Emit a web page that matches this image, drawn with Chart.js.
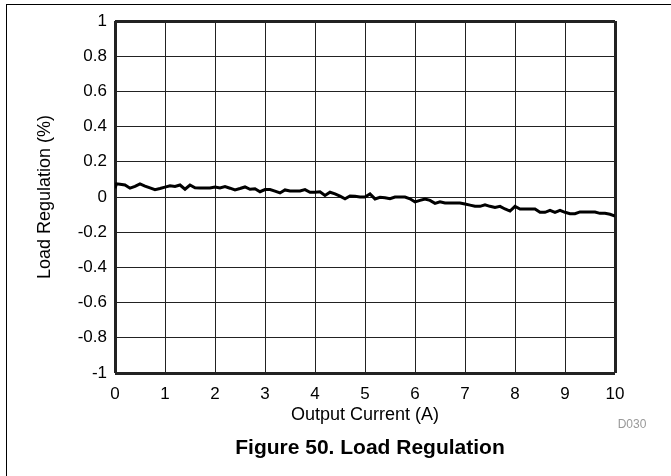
<!DOCTYPE html>
<html>
<head>
<meta charset="utf-8">
<script src="https://cdn.jsdelivr.net/npm/chart.js@4"></script>
<style>
  body { margin: 0; background: #fff; }
  #wrap { position: relative; width: 671px; height: 476px; overflow: hidden; }
  #frame { position: absolute; left: 6px; top: 4px; right: 0; bottom: 0; border-top: 1px solid #000; border-left: 1px solid #000; }
  #chart { position: absolute; left: 0; top: 0; }
</style>
</head>
<body>
<div id="wrap">
  <div id="frame"></div>
  <canvas id="chart" width="671" height="476"></canvas>
</div>
<script>
// Output current (A)
const currentA = [
    0.0, 0.03, 0.1, 0.2, 0.3, 0.4, 0.5, 0.6, 0.7, 0.8, 0.9,
    1.0, 1.1, 1.2, 1.3, 1.4, 1.5, 1.6, 1.7, 1.8, 1.9,
    2.0, 2.1, 2.2, 2.3, 2.4, 2.5, 2.6, 2.7, 2.8, 2.9,
    3.0, 3.1, 3.2, 3.3, 3.4, 3.5, 3.6, 3.7, 3.8, 3.9,
    4.0, 4.1, 4.2, 4.3, 4.4, 4.5, 4.6, 4.7, 4.8, 4.9,
    5.0, 5.1, 5.2, 5.3, 5.4, 5.5, 5.6, 5.7, 5.8, 5.9,
    6.0, 6.1, 6.2, 6.3, 6.4, 6.5, 6.6, 6.7, 6.8, 6.9,
    7.0, 7.1, 7.2, 7.3, 7.4, 7.5, 7.6, 7.7, 7.8, 7.9,
    8.0, 8.1, 8.2, 8.3, 8.4, 8.5, 8.6, 8.7, 8.8, 8.9,
    9.0, 9.1, 9.2, 9.3, 9.4, 9.5, 9.6, 9.7, 9.8, 9.9, 10.0
];

// Load regulation (%)
const regulationPct = [
    0.050, 0.075, 0.072, 0.068, 0.050, 0.060, 0.074, 0.062, 0.052, 0.042, 0.048,
    0.056, 0.064, 0.060, 0.068, 0.044, 0.068, 0.052, 0.051, 0.051, 0.051,
    0.057, 0.051, 0.059, 0.050, 0.040, 0.048, 0.057, 0.044, 0.047, 0.030,
    0.042, 0.042, 0.033, 0.023, 0.040, 0.034, 0.034, 0.034, 0.042, 0.027,
    0.027, 0.030, 0.009, 0.027, 0.018, 0.005, -0.010, 0.006, 0.004, 0.000,
    0.000, 0.017, -0.011, -0.002, -0.004, -0.010, 0.000, 0.000, 0.000, -0.010,
    -0.028, -0.019, -0.011, -0.019, -0.036, -0.027, -0.034, -0.034, -0.034, -0.034,
    -0.040, -0.046, -0.053, -0.053, -0.044, -0.053, -0.060, -0.053, -0.068, -0.080,
    -0.053, -0.068, -0.068, -0.068, -0.068, -0.087, -0.087, -0.076, -0.087, -0.076,
    -0.087, -0.095, -0.095, -0.085, -0.085, -0.085, -0.085, -0.093, -0.093, -0.098, -0.108
];

const xTitle = 'Output Current (A)';
const yTitle = 'Load Regulation (%)';
const caption = 'Figure 50. Load Regulation';
const figureId = 'D030';

const font = 'Liberation Sans, Arial, sans-serif';

// caption under the chart and the small figure id
const captionPlugin = {
    id: 'caption',
    afterDraw(chart) {
        const ctx = chart.ctx;
        ctx.save();
        ctx.textAlign = 'center';
        ctx.textBaseline = 'middle';
        ctx.fillStyle = '#000';
        ctx.font = 'bold 21px ' + font;
        ctx.fillText(caption, 370, 448);
        ctx.fillStyle = '#999';
        ctx.font = '12px ' + font;
        ctx.fillText(figureId, 632, 425);
        ctx.restore();
    }
};

const edgeWidth = (ctx) => {
    const s = ctx.scale;
    return (ctx.tick.value === s.min || ctx.tick.value === s.max) ? 3 : 1;
};

new Chart(document.getElementById('chart'), {
    type: 'line',
    data: {
        datasets: [{
            data: currentA.map((x, i) => ({ x: x, y: regulationPct[i] })),
            borderColor: '#000',
            borderWidth: 3,
            pointRadius: 0,
            tension: 0,
            fill: false
        }]
    },
    options: {
        responsive: false,
        animation: false,
        devicePixelRatio: 1,
        layout: { padding: { left: 0, top: 21, right: 56, bottom: 50 } },
        plugins: { legend: { display: false }, tooltip: { enabled: false } },
        scales: {
            x: {
                type: 'linear',
                min: 0,
                max: 10,
                afterFit: (s) => { s.height = 53; },
                border: { display: false },
                grid: { color: '#222', lineWidth: edgeWidth, drawTicks: false },
                ticks: { stepSize: 1, padding: 11, color: '#000', font: { family: font, size: 17 } },
                title: { display: true, text: xTitle, color: '#000', padding: 0, font: { family: font, size: 18 } }
            },
            y: {
                min: -1,
                max: 1,
                afterFit: (s) => { s.width = 115; },
                border: { display: false },
                grid: { color: '#222', lineWidth: edgeWidth, drawTicks: false },
                ticks: {
                    stepSize: 0.2,
                    padding: 8,
                    color: '#000',
                    font: { family: font, size: 17 },
                    callback: (v) => String(Math.round(v * 10) / 10)
                },
                title: { display: true, text: yTitle, color: '#000', padding: { top: 34, bottom: 0 }, font: { family: font, size: 18 } }
            }
        }
    },
    plugins: [captionPlugin]
});
</script>
</body>
</html>
